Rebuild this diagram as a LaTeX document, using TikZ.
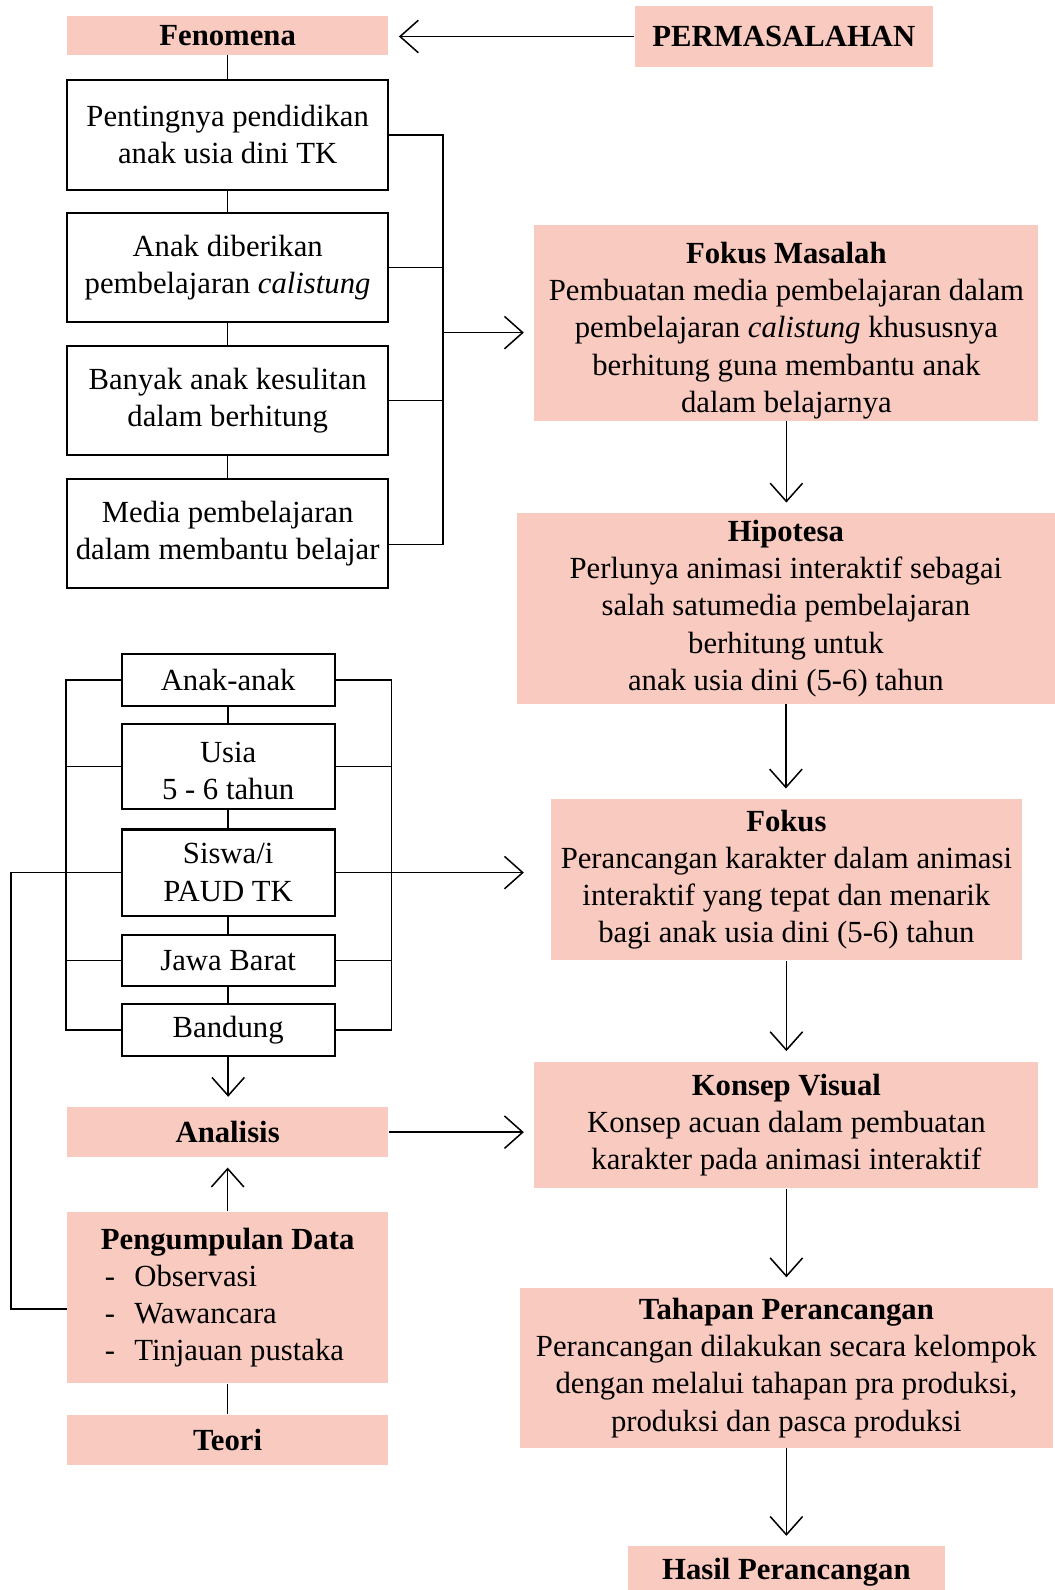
\documentclass[tikz,border=0pt]{standalone}
\usepackage{fontspec}
\setmainfont{Liberation Serif}
\usetikzlibrary{arrows.meta,positioning}
\definecolor{salmon}{RGB}{249,203,192}

\tikzset{
  linebox/.style={draw,line width=1pt,align=center,inner sep=0pt},
  softbox/.style={fill=salmon,align=center,inner sep=0pt},
  wire/.style={line width=0.75pt},
  arr/.style={wire,-{Straight Barb[length=9pt,width=16pt,line width=0.75pt]},shorten >=5pt}
}

\begin{document}
\begin{tikzpicture}[x=0.5pt,y=-0.5pt,on grid,node distance=65.5pt,
    font=\fontsize{15.15}{18.35}\selectfont]
  \useasboundingbox (0,0) rectangle (1040,1568);

  % left column, top
  \node[softbox,minimum width=158.5pt,minimum height=19pt] (fen) at (224.5,35) {\textbf{Fenomena}};
  \node[softbox,minimum width=147pt,minimum height=30pt] (perm) at (773,36) {\textbf{PERMASALAHAN}};
  \node[linebox,minimum width=158.5pt,minimum height=54pt] (b1) [below=49pt of fen] {Pentingnya pendidikan\\anak usia dini TK};
  \node[linebox,minimum width=158.5pt,minimum height=54pt] (b2) [below=of b1] {Anak diberikan\\pembelajaran \textit{calistung}};
  \node[linebox,minimum width=158.5pt,minimum height=54pt] (b3) [below=of b2] {Banyak anak kesulitan\\dalam berhitung};
  \node[linebox,minimum width=158.5pt,minimum height=54pt] (b4) [below=of b3] {Media pembelajaran\\dalam membantu belajar};

  % left column, subject boxes
  \node[linebox,minimum width=105pt,minimum height=25.5pt] (anak) at (225,670.5) {Anak-anak};
  \node[linebox,minimum width=105pt,minimum height=42pt] (usia) [below=42.75pt of anak] {\rule{0pt}{14pt}Usia\\5 - 6 tahun};
  \node[linebox,minimum width=105pt,minimum height=42.5pt] (siswa) [below=52.25pt of usia] {Siswa/i\\PAUD TK};
  \node[linebox,minimum width=105pt,minimum height=25pt] (jawa) [below=43.25pt of siswa] {Jawa Barat};
  \node[linebox,minimum width=105pt,minimum height=25.5pt] (bandung) [below=34.25pt of jawa] {Bandung};

  % left column, bottom
  \node[softbox,minimum width=158.5pt,minimum height=24.5pt] (analisis) at (224.5,1116.5) {\textbf{Analisis}};
  \node[softbox,align=left,minimum width=158.5pt,minimum height=84.5pt] (kumpul) at (224.5,1279.5)
    {\textbf{Pengumpulan Data}\\
     \makebox[16.5pt][l]{\hspace{2pt}-}Observasi\\
     \makebox[16.5pt][l]{\hspace{2pt}-}Wawancara\\
     \makebox[16.5pt][l]{\hspace{2pt}-}Tinjauan pustaka};
  \node[softbox,minimum width=158.5pt,minimum height=25pt] (teori) [below=70.25pt of kumpul] {\textbf{Teori}};

  % right column
  \node[softbox,minimum width=248.5pt,minimum height=96.5pt] (fm) at (775.5,318.5)
    {\rule{0pt}{18pt}\textbf{Fokus Masalah}\\Pembuatan media pembelajaran dalam\\pembelajaran \textit{calistung} khususnya\\berhitung guna membantu anak\\dalam belajarnya};
  \node[softbox,minimum width=265pt,minimum height=94pt] (hip) at (775,600)
    {\textbf{Hipotesa}\\Perlunya animasi interaktif sebagai\\salah satumedia pembelajaran\\berhitung untuk\\anak usia dini (5-6) tahun};
  \node[softbox,minimum width=232.5pt,minimum height=79.5pt] (fokus) at (775.5,867.5)
    {\textbf{Fokus}\\Perancangan karakter dalam animasi\\interaktif yang tepat dan menarik\\bagi anak usia dini (5-6) tahun};
  \node[softbox,minimum width=248.5pt,minimum height=62.5pt] (konsep) at (775.5,1109.5)
    {\textbf{Konsep Visual}\\Konsep acuan dalam pembuatan\\karakter pada animasi interaktif};
  \node[softbox,minimum width=262.5pt,minimum height=79pt] (tahap) at (775.5,1349)
    {\textbf{Tahapan Perancangan}\\Perancangan dilakukan secara kelompok\\dengan melalui tahapan pra produksi,\\produksi dan pasca produksi};
  \node[softbox,minimum width=156.5pt,minimum height=25pt] (hasil) at (775.5,1550) {\textbf{Hasil Perancangan}};

  \coordinate (busout) at (437,328);
  \coordinate (busend) at (437,537);
  \coordinate (kin) at (66,1291);

  % connectors
  \draw[arr] (perm.west) -- (perm.west -| fen.east);
  \draw[wire] (fen) -- (b1) (b1) -- (b2) (b2) -- (b3) (b3) -- (b4);
  \draw[wire] (b1.east) -| (busend) -- (busend -| b4.east);
  \draw[wire] (b2.east) -- (b2.east -| busend) (b3.east) -- (b3.east -| busend);
  \draw[arr] (busout) -- (busout -| fm.west);

  \draw[wire] (anak) -- (usia) (usia) -- (siswa) (siswa) -- (jawa) (jawa) -- (bandung);
  \draw[wire] (anak.west) -- ++(-54,0) |- (bandung.west);
  \draw[wire] (anak.east) -- ++(55,0) |- (bandung.east);
  \foreach \n in {usia,siswa,jawa}{
    \draw[wire] (\n.west) -- ++(-54,0);
    \draw[wire] (\n.east) -- ++(55,0);
  }
  \draw[arr] (siswa.east) -- (siswa.east -| fm.west);
  \draw[wire] (siswa.west) -- ++(-108,0) |- (kin);

  \draw[arr] (bandung.south) -- (bandung.south |- analisis.north);
  \draw[arr] (kumpul.north) -- (analisis.south);
  \draw[wire] (kumpul) -- (teori);
  \draw[arr] (analisis.east) -- (analisis.east -| fm.west);

  \draw[arr] (fm.south) -- (fm.south |- hip.north);
  \draw[arr] (hip.south) -- (hip.south |- fokus.north);
  \draw[arr] (fokus.south) -- (fokus.south |- konsep.north);
  \draw[arr] (konsep.south) -- (konsep.south |- tahap.north);
  \draw[arr] (tahap.south) -- (tahap.south |- hasil.north);
\end{tikzpicture}
\end{document}
